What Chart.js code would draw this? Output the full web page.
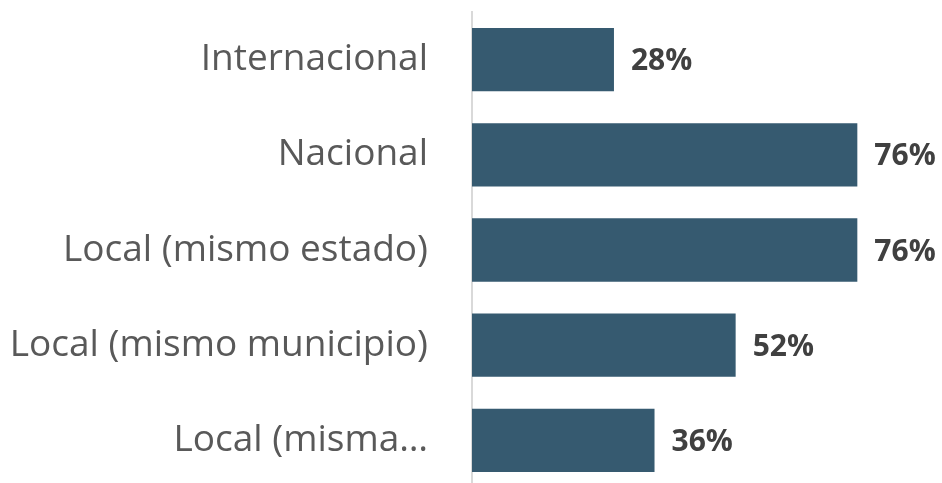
<!DOCTYPE html>
<html><head><meta charset="utf-8">
<script src="https://cdn.jsdelivr.net/npm/chart.js@4/dist/chart.umd.min.js"></script>
<style>html,body{margin:0;padding:0;background:#fff;overflow:hidden;}#wrap{width:942px;height:483px;overflow:hidden;}</style>
</head><body><div id="wrap"><canvas id="c" width="942" height="488"></canvas></div>
<script>
const categories = ["Internacional", "Nacional", "Local (mismo estado)", "Local (mismo municipio)", "Local (misma…"];
const values = [28, 76, 76, 52, 36];
const valueLabels = ["28%", "76%", "76%", "52%", "36%"];

const valuePlugin = {
  id: 'valueLabels',
  afterDatasetsDraw(chart) {
    const ctx = chart.ctx;
    const meta = chart.getDatasetMeta(0);
    ctx.save();
    ctx.font = 'bold 30px "Open Sans"';
    ctx.fillStyle = '#404040';
    ctx.textAlign = 'left';
    ctx.textBaseline = 'middle';
    meta.data.forEach((bar, i) => {
      ctx.fillText(valueLabels[i], bar.x + 17, bar.y + 2);
    });
    ctx.restore();
  }
};

new Chart(document.getElementById('c'), {
  type: 'bar',
  data: {
    labels: categories,
    datasets: [{
      data: values,
      backgroundColor: '#365a70',
      barPercentage: 0.665,
      categoryPercentage: 1.0
    }]
  },
  options: {
    indexAxis: 'y',
    responsive: false,
    animation: false,
    layout: { padding: { top: 12, bottom: 0, left: 0, right: 0 } },
    plugins: { legend: { display: false }, tooltip: { enabled: false } },
    scales: {
      x: { display: false, min: 0, max: 92.7 },
      y: {
        grid: { display: false, drawTicks: false },
        border: { display: true, color: '#d9d9d9', width: 2 },
        ticks: { color: '#595959', font: { family: '"Open Sans"', size: 37 }, padding: 44, autoSkip: false },
        afterFit(scale) { scale.width = 472; scale.paddingTop = 0; scale.paddingBottom = 0; }
      }
    }
  },
  plugins: [valuePlugin]
});
</script></body></html>
